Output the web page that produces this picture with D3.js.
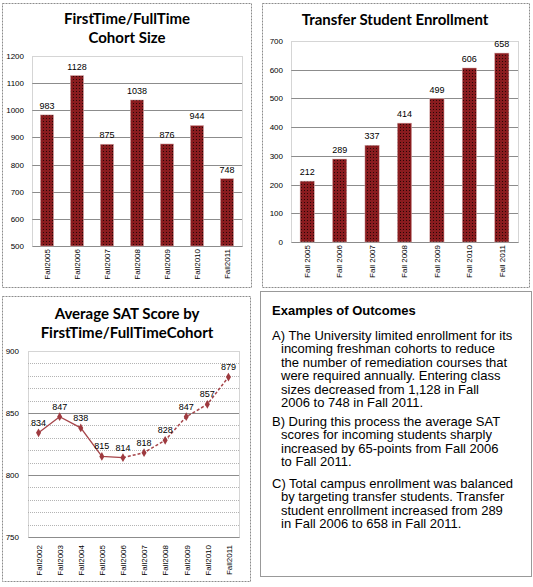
<!DOCTYPE html>
<html>
<head>
<meta charset="utf-8">
<script src="https://cdn.jsdelivr.net/npm/d3@7"></script>
<style>
  body { margin: 0; background: #fff; }
  .title { font-family: "Liberation Sans Narrow", "Lato", sans-serif; font-weight: bold; font-size: 15px; fill: #000; }
  .tick text { font-family: "Liberation Sans", Arial, sans-serif; font-size: 8px; fill: #000; }
  .lbl { font-family: "Liberation Sans", Arial, sans-serif; font-size: 9px; fill: #000; }
  .note { font-family: "Liberation Sans", Arial, sans-serif; font-size: 13px; fill: #000; }
</style>
</head>
<body>
<div id="chart"></div>
<script>
// cohort size (first time / full time)
var cohortYears = ["Fall2005", "Fall2006", "Fall2007", "Fall2008", "Fall2009", "Fall2010", "Fall2011"];
var cohortSize = [983, 1128, 875, 1038, 876, 944, 748];
var cohortTicks = [500, 600, 700, 800, 900, 1000, 1100, 1200];

// transfer students
var transferYears = ["Fall 2005", "Fall 2006", "Fall 2007", "Fall 2008", "Fall 2009", "Fall 2010", "Fall 2011"];
var transferCount = [212, 289, 337, 414, 499, 606, 658];
var transferTicks = [0, 100, 200, 300, 400, 500, 600, 700];

// SAT
var satYears = ["Fall2002", "Fall2003", "Fall2004", "Fall2005", "Fall2006", "Fall2007", "Fall2008", "Fall2009", "Fall2010", "Fall2011"];
var satScore = [834, 847, 838, 815, 814, 818, 828, 847, 857, 879];
var satTicks = [750, 800, 850, 900];
var satMinor = [760, 770, 780, 790, 810, 820, 830, 840, 860, 870, 880, 890];

var svg = d3.select("#chart").append("svg")
    .attr("width", 533)
    .attr("height", 587);

// dotted maroon fill like the excel bars
var pat = svg.append("defs").append("pattern")
    .attr("id", "dots")
    .attr("width", 3).attr("height", 3)
    .attr("patternUnits", "userSpaceOnUse");
pat.append("rect").attr("width", 3).attr("height", 3).attr("fill", "#8a1c1f");
pat.append("rect").attr("x", 1).attr("y", 1).attr("width", 1).attr("height", 1).attr("fill", "#2a0606");

function panel(x, y, w, h) {
  svg.append("rect")
    .attr("x", x + 0.5).attr("y", y + 0.5)
    .attr("width", w).attr("height", h)
    .attr("fill", "#fff")
    .attr("stroke", "#8c8c8c")
    .attr("stroke-dasharray", "2,1");
}

function titles(lines, cx, ys) {
  lines.forEach(function(t, i) {
    svg.append("text").attr("class", "title")
      .attr("x", cx).attr("y", ys[i])
      .attr("text-anchor", "middle")
      .text(t);
  });
}

function barChart(o) {
  var x = d3.scaleBand().domain(o.cats).range([o.left, o.right])
      .paddingInner(0.56).paddingOuter(0.28);
  var y = d3.scaleLinear().domain([o.ticks[0], o.ticks[o.ticks.length - 1]]).range([o.bottom, o.top]);

  var g = svg.append("g");

  // grid
  g.selectAll(".grid").data(o.ticks.slice(1, -1)).enter().append("line")
    .attr("x1", o.left).attr("x2", o.right)
    .attr("y1", function(d) { return Math.round(y(d)) + 0.5; })
    .attr("y2", function(d) { return Math.round(y(d)) + 0.5; })
    .attr("stroke", "#8c8c8c");

  g.append("rect")
    .attr("x", o.left + 0.5).attr("y", o.top + 0.5)
    .attr("width", o.right - o.left).attr("height", o.bottom - o.top)
    .attr("fill", "none").attr("stroke", "#aaa").attr("stroke-dasharray", "1,1");

  var yAxis = g.append("g")
    .attr("transform", "translate(" + o.left + ",0)")
    .call(d3.axisLeft(y).tickValues(o.ticks).tickFormat(d3.format("d")).tickSize(0).tickPadding(8));
  yAxis.select(".domain").remove();

  var xAxis = g.append("g")
    .attr("transform", "translate(0," + o.bottom + ")")
    .call(d3.axisBottom(x).tickSize(0));
  xAxis.select(".domain").attr("stroke", "#8c8c8c");
  xAxis.selectAll("text")
    .attr("font-size", "9px")
    .attr("transform", "rotate(-90)")
    .attr("text-anchor", "end")
    .attr("dy", "0.35em")
    .attr("x", -3).attr("y", 0);

  g.selectAll(".bar").data(o.values).enter().append("rect")
    .attr("class", "bar")
    .attr("x", function(d, i) { return x(o.cats[i]); })
    .attr("width", x.bandwidth())
    .attr("y", function(d) { return y(d); })
    .attr("height", function(d) { return o.bottom - y(d); })
    .attr("fill", "url(#dots)")
    .attr("stroke", "#d9b3b3").attr("stroke-width", 0.5);

  g.selectAll(".val").data(o.values).enter().append("text")
    .attr("class", "lbl")
    .attr("x", function(d, i) { return x(o.cats[i]) + x.bandwidth() / 2; })
    .attr("y", function(d) { return y(d) - 6; })
    .attr("text-anchor", "middle")
    .text(function(d) { return d; });
}

// --- chart 1
panel(2, 3, 249, 284);
titles(["FirstTime/FullTime", "Cohort Size"], 127, [24, 43]);
barChart({ cats: cohortYears, values: cohortSize, ticks: cohortTicks,
  left: 32, right: 242, top: 56, bottom: 246 });

// --- chart 2
panel(262, 3, 267, 284);
titles(["Transfer Student Enrollment"], 395, [25]);
barChart({ cats: transferYears, values: transferCount, ticks: transferTicks,
  left: 291, right: 518, top: 41, bottom: 242 });

// --- chart 3 : SAT line
panel(2, 296, 248, 285);
titles(["Average SAT Score by", "FirstTime/FullTimeCohort"], 127, [319, 338]);

var sx = d3.scalePoint().domain(satYears).range([28, 239]).padding(0.5);
var sy = d3.scaleLinear().domain([750, 900]).range([537, 351]);
var g3 = svg.append("g");

g3.selectAll(".minor").data(satMinor).enter().append("line")
  .attr("x1", 28).attr("x2", 239)
  .attr("y1", function(d) { return Math.round(sy(d)) + 0.5; })
  .attr("y2", function(d) { return Math.round(sy(d)) + 0.5; })
  .attr("stroke", "#b4b4b4").attr("stroke-dasharray", "1,1");
g3.selectAll(".major").data(satTicks.slice(1, -1)).enter().append("line")
  .attr("x1", 28).attr("x2", 239)
  .attr("y1", function(d) { return Math.round(sy(d)) + 0.5; })
  .attr("y2", function(d) { return Math.round(sy(d)) + 0.5; })
  .attr("stroke", "#8c8c8c");
g3.append("rect")
  .attr("x", 28.5).attr("y", 351.5).attr("width", 211).attr("height", 186)
  .attr("fill", "none").attr("stroke", "#aaa").attr("stroke-dasharray", "1,1");

var sAxis = g3.append("g").attr("transform", "translate(28,0)")
  .call(d3.axisLeft(sy).tickValues(satTicks).tickSize(0).tickPadding(9));
sAxis.select(".domain").remove();

var sxAxis = g3.append("g").attr("transform", "translate(0,537)")
  .call(d3.axisBottom(sx).tickSize(0));
sxAxis.select(".domain").attr("stroke", "#8c8c8c");
sxAxis.selectAll("text")
  .attr("font-size", "8px")
  .attr("transform", "rotate(-90)")
  .attr("text-anchor", "end")
  .attr("dy", "0.35em")
  .attr("x", -8).attr("y", 0);

var line = d3.line()
  .x(function(d, i) { return sx(satYears[i]); })
  .y(function(d) { return sy(d); });
var solidPart = satScore.slice(0, 5);
var dashedPart = satScore.slice(4);
g3.append("path").datum(solidPart)
  .attr("d", line)
  .attr("fill", "none").attr("stroke", "#a6454a").attr("stroke-width", 1.3);
g3.append("path").datum(dashedPart)
  .attr("d", d3.line()
    .x(function(d, i) { return sx(satYears[i + 4]); })
    .y(function(d) { return sy(d); }))
  .attr("fill", "none").attr("stroke", "#a6454a").attr("stroke-width", 1.5)
  .attr("stroke-dasharray", "3,2");

g3.selectAll(".pt").data(satScore).enter().append("path")
  .attr("d", d3.symbol().type(d3.symbolDiamond).size(22))
  .attr("transform", function(d, i) { return "translate(" + sx(satYears[i]) + "," + sy(d) + ")"; })
  .attr("fill", "#9e3a3f");

g3.selectAll(".slbl").data(satScore).enter().append("text")
  .attr("class", "lbl")
  .attr("x", function(d, i) { return sx(satYears[i]); })
  .attr("y", function(d) { return sy(d) - 7; })
  .attr("text-anchor", "middle")
  .text(function(d) { return d; });

// --- text box
svg.append("rect")
  .attr("x", 260.5).attr("y", 291.5).attr("width", 271).attr("height", 285)
  .attr("fill", "#fff").attr("stroke", "#333").attr("stroke-dasharray", "1,1");

svg.append("text").attr("class", "note")
  .attr("x", 272).attr("y", 315)
  .attr("font-weight", "bold").attr("font-size", "14px")
  .text("Examples of Outcomes");

var paragraphs = [
  { tag: "A)", y: 340, lines: ["The University limited enrollment for its", "incoming freshman cohorts to reduce", "the number of remediation courses that", "were required annually. Entering class", "sizes decreased from 1,128 in Fall", "2006 to 748 in Fall 2011."] },
  { tag: "B)", y: 426, lines: ["During this process the average SAT", "scores for incoming students sharply", "increased by 65-points from Fall 2006", "to Fall 2011."] },
  { tag: "C)", y: 488, lines: ["Total campus enrollment was balanced", "by targeting transfer students. Transfer", "student enrollment increased from 289", "in Fall 2006 to 658 in Fall 2011."] }
];

paragraphs.forEach(function(p) {
  var t = svg.append("text").attr("class", "note").attr("y", p.y);
  t.append("tspan").attr("x", 272).attr("y", p.y).text(p.tag + " " + p.lines[0]);
  p.lines.slice(1).forEach(function(l, i) {
    t.append("tspan")
      .attr("x", 281)
      .attr("y", p.y + (i + 1) * 13.4)
      .text(l);
  });
});
</script>
</body>
</html>
